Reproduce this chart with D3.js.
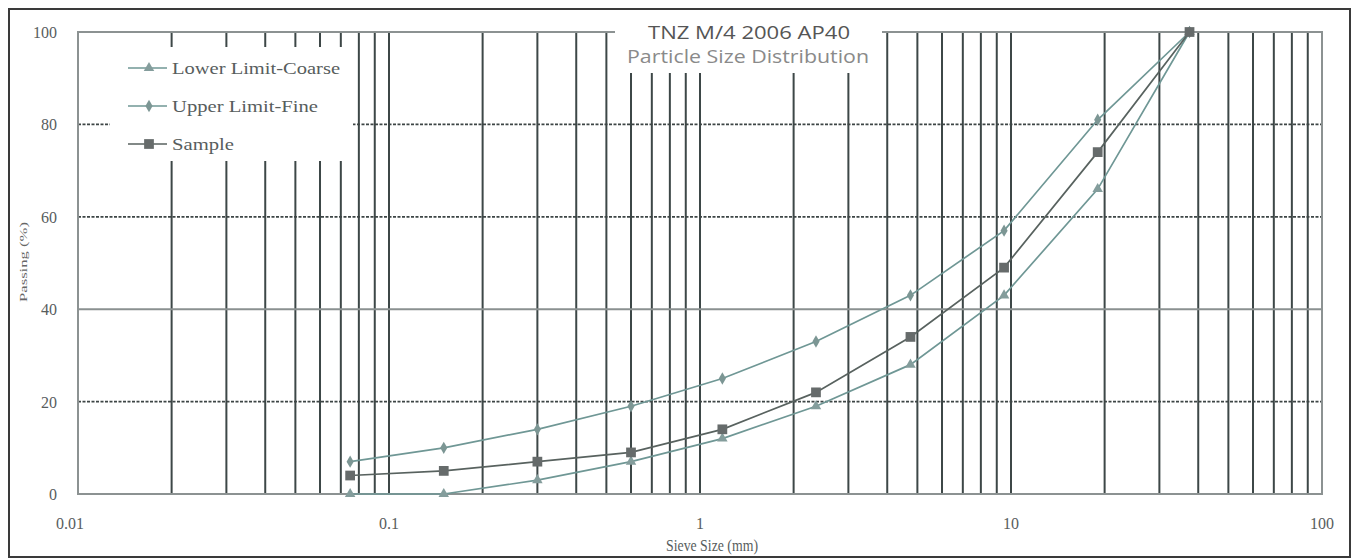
<!DOCTYPE html>
<html>
<head>
<meta charset="utf-8">
<script src="https://cdn.jsdelivr.net/npm/d3@7/dist/d3.min.js"></script>
<style>
  html, body { margin: 0; padding: 0; background: #fff; }
  svg { display: block; }
</style>
</head>
<body>
<svg id="chart" width="1359" height="559"></svg>
<script>
// Sieve sizes (mm) and percentage passing for the TNZ M/4 AP40 envelope and the tested sample
const sieveSizes = [0.075, 0.15, 0.3, 0.6, 1.18, 2.36, 4.75, 9.5, 19, 37.5];
const lowerLimit = [0, 0, 3, 7, 12, 19, 28, 43, 66, 100];
const upperLimit = [7, 10, 14, 19, 25, 33, 43, 57, 81, 100];
const sample     = [4, 5, 7, 9, 14, 22, 34, 49, 74, 100];

const xTickLabels = [0.01, 0.1, 1, 10, 100];
const yTickLabels = [0, 20, 40, 60, 80, 100];
const seriesNames = ["Lower Limit-Coarse", "Upper Limit-Fine", "Sample"];
const titleLines = ["TNZ M/4 2006 AP40", "Particle Size Distribution"];

const svg = d3.select("#chart");
const plot = { left: 78, right: 1322, top: 32, bottom: 494 };

const x = d3.scaleLog().domain([0.01, 100]).range([plot.left, plot.right]);
const y = d3.scaleLinear().domain([0, 100]).range([plot.bottom, plot.top]);

const serif = "'Liberation Serif', 'Times New Roman', serif";
const textGrey = "#575d5d";

// outer frame
svg.append("rect")
  .attr("x", 9).attr("y", 9).attr("width", 1341).attr("height", 548)
  .attr("fill", "#fff").attr("stroke", "#3a3a3a").attr("stroke-width", 2);

const g = svg.append("g");

// vertical log grid (1..9 in every decade)
g.append("g").selectAll("line")
  .data(x.ticks().filter(d => d > 0.01 && d < 100))
  .join("line")
  .attr("x1", d => x(d)).attr("x2", d => x(d))
  .attr("y1", plot.top).attr("y2", plot.bottom)
  .attr("stroke", "#3d4747").attr("stroke-width", 2);

// horizontal grid
const hGrid = [20, 40, 60, 80];
g.append("g").selectAll("line")
  .data(hGrid)
  .join("line")
  .attr("x1", plot.left).attr("x2", plot.right)
  .attr("y1", d => y(d)).attr("y2", d => y(d))
  .attr("stroke", d => d === 40 ? "#8a9090" : "#3d4545")
  .attr("stroke-width", d => d === 40 ? 2 : 1.7)
  .attr("stroke-dasharray", d => d === 40 ? null : "3,1.5");

// plot border
g.append("rect")
  .attr("x", plot.left).attr("y", plot.top)
  .attr("width", plot.right - plot.left).attr("height", plot.bottom - plot.top)
  .attr("fill", "none").attr("stroke", "#8c9292").attr("stroke-width", 2);

// white boxes behind the legend and the title
g.append("rect").attr("x", 110).attr("y", 47).attr("width", 243).attr("height", 114).attr("fill", "#fff");
g.append("rect").attr("x", 615).attr("y", 20).attr("width", 267).attr("height", 53).attr("fill", "#fff");

// axis tick labels
svg.append("g").selectAll("text")
  .data(yTickLabels)
  .join("text")
  .attr("x", 57).attr("y", d => y(d) + 6)
  .attr("text-anchor", "end")
  .attr("font-family", serif).attr("font-size", 16).attr("fill", textGrey)
  .text(d => d);

svg.append("g").selectAll("text")
  .data(xTickLabels)
  .join("text")
  .attr("x", d => x(d) - (d === 0.01 ? 8 : 0)).attr("y", 529)
  .attr("text-anchor", "middle")
  .attr("font-family", serif).attr("font-size", 16).attr("fill", textGrey)
  .text(d => d);

// axis titles
svg.append("text")
  .attr("x", 712).attr("y", 551)
  .attr("text-anchor", "middle")
  .attr("font-family", serif).attr("font-size", 16).attr("fill", textGrey)
  .attr("textLength", 92).attr("lengthAdjust", "spacingAndGlyphs")
  .text("Sieve Size (mm)");
svg.append("text")
  .attr("transform", "translate(27,262) rotate(-90)")
  .attr("text-anchor", "middle")
  .attr("font-family", serif).attr("font-size", 11).attr("fill", "#666")
  .attr("textLength", 80).attr("lengthAdjust", "spacingAndGlyphs")
  .text("Passing (%)");

// title
svg.append("text")
  .attr("x", 749).attr("y", 39)
  .attr("text-anchor", "middle")
  .attr("font-family", "'Open Sans', sans-serif").attr("font-size", 18).attr("fill", "#555")
  .attr("textLength", 202).attr("lengthAdjust", "spacingAndGlyphs")
  .text(titleLines[0]);
svg.append("text")
  .attr("x", 748).attr("y", 63)
  .attr("text-anchor", "middle")
  .attr("font-family", "'Open Sans', sans-serif").attr("font-size", 18).attr("fill", "#8a8a8a")
  .attr("textLength", 242).attr("lengthAdjust", "spacingAndGlyphs")
  .text(titleLines[1]);

// series
const series = [
  { name: seriesNames[0], values: lowerLimit, color: "#6f9795", marker: d3.symbolTriangle, size: 48, mColor: "#849d9c", textLen: 168 },
  { name: seriesNames[1], values: upperLimit, color: "#6f9795", marker: d3.symbolDiamond, size: 44, mColor: "#7c9694", textLen: 146 },
  { name: seriesNames[2], values: sample, color: "#58625f", marker: d3.symbolSquare, size: 95, mColor: "#666b6b", textLen: 62 }
];

const line = d3.line().x(d => x(d[0])).y(d => y(d[1]));

series.forEach(s => {
  const pts = sieveSizes.map((sz, i) => [sz, s.values[i]]);
  g.append("path")
    .datum(pts)
    .attr("d", line)
    .attr("fill", "none").attr("stroke", s.color).attr("stroke-width", 1.7);
  g.append("g").selectAll("path")
    .data(pts)
    .join("path")
    .attr("transform", d => `translate(${x(d[0])},${y(d[1])})`)
    .attr("d", d3.symbol().type(s.marker).size(s.size))
    .attr("fill", s.mColor);
});

// legend
const legend = svg.append("g");
series.forEach((s, i) => {
  const ly = 68 + i * 38;
  legend.append("line")
    .attr("x1", 128).attr("x2", 167).attr("y1", ly).attr("y2", ly)
    .attr("stroke", s.color).attr("stroke-width", 1.7);
  legend.append("path")
    .attr("transform", `translate(149,${ly})`)
    .attr("d", d3.symbol().type(s.marker).size(s.size))
    .attr("fill", s.mColor);
  legend.append("text")
    .attr("x", 172).attr("y", ly + 6)
    .attr("font-family", serif).attr("font-size", 17).attr("fill", textGrey)
    .attr("textLength", s.textLen).attr("lengthAdjust", "spacingAndGlyphs")
    .text(s.name);
});
</script>
</body>
</html>
